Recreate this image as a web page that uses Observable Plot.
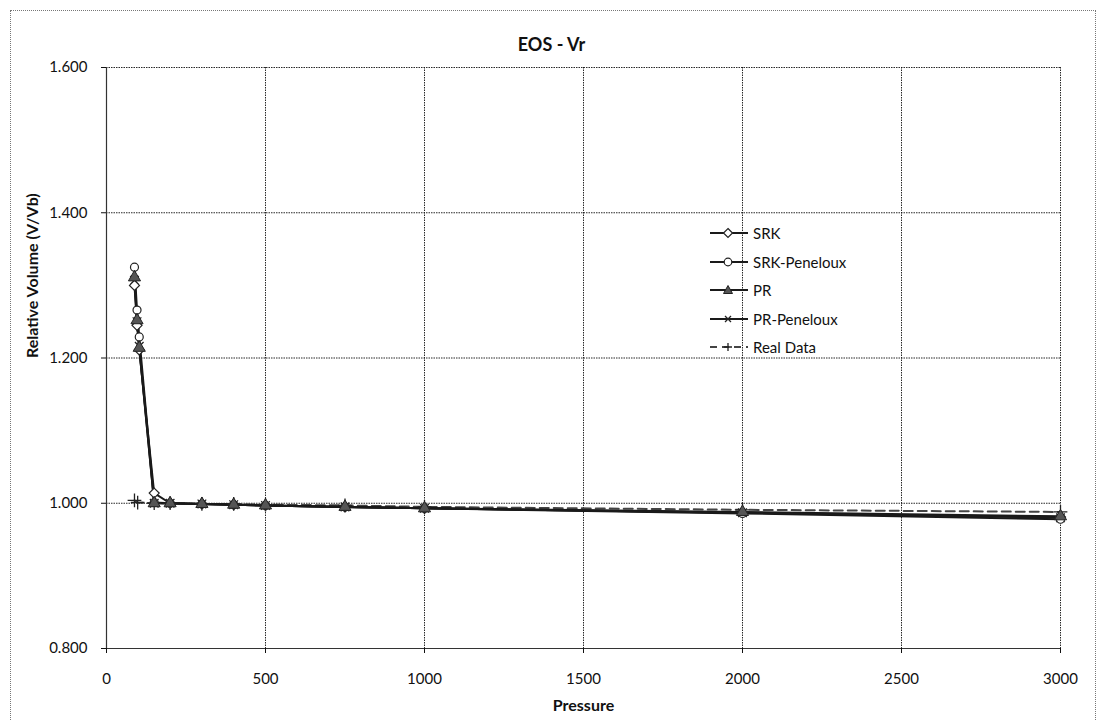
<!DOCTYPE html>
<html>
<head>
<meta charset="utf-8">
<script src="https://cdn.jsdelivr.net/npm/d3@7"></script>
<script src="https://cdn.jsdelivr.net/npm/@observablehq/plot@0.6"></script>
<style>
  html, body { margin: 0; padding: 0; background: #fff; }
  #wrap { position: relative; width: 1103px; height: 720px; overflow: hidden; font-family: Lato, "Open Sans", sans-serif; }
  #border { position: absolute; left: 10px; top: 10px; width: 1086px; height: 730px; border: 1px dotted #777; box-sizing: border-box; pointer-events: none; }
  #legend { position: absolute; left: 708px; top: 219px; font-size: 15px; color: #111; }
  .row { height: 28.5px; display: flex; align-items: center; }
  .row svg { margin-right: 3px; }
</style>
</head>
<body>
<div id="wrap"><div id="border"></div><div id="legend"></div></div>
<script>
// ---- data ----
const xTicks = [0, 500, 1000, 1500, 2000, 2500, 3000];
const yTicks = [0.8, 1.0, 1.2, 1.4, 1.6];

const modelPressure = [88, 96, 103, 150, 200, 300, 400, 500, 750, 1000, 2000, 3000];
const srk      = [1.300, 1.245, 1.211, 1.014, 1.000, 0.999, 0.998, 0.997, 0.995, 0.993, 0.987, 0.981];
const srkPen   = [1.325, 1.266, 1.229, 1.001, 1.000, 0.999, 0.998, 0.997, 0.995, 0.993, 0.986, 0.978];
const pr       = [1.311, 1.252, 1.214, 1.000, 1.000, 0.999, 0.998, 0.997, 0.995, 0.993, 0.988, 0.982];
const prPen    = [1.307, 1.250, 1.216, 1.000, 1.000, 0.999, 0.998, 0.997, 0.995, 0.993, 0.987, 0.980];

const realPressure = [88, 98, 150, 200, 300, 400, 500, 750, 1000, 2000, 3000];
const realData     = [1.004, 1.001, 1.000, 1.000, 0.999, 0.999, 0.998, 0.997, 0.995, 0.991, 0.988];

const seriesNames = ["SRK", "SRK-Peneloux", "PR", "PR-Peneloux", "Real Data"];

// ---- build tables ----
const toRows = (ps, vs) => ps.map((p, i) => ({p, v: vs[i]}));
const dSRK = toRows(modelPressure, srk);
const dSRKP = toRows(modelPressure, srkPen);
const dPR = toRows(modelPressure, pr);
const dPRP = toRows(modelPressure, prPen);
const dReal = toRows(realPressure, realData);

const lineStyle = {x: "p", y: "v", stroke: "#1a1a1a", strokeWidth: 2};
const chart = Plot.plot({
  width: 1103, height: 720,
  marginLeft: 106, marginRight: 43, marginTop: 67, marginBottom: 72,
  style: {fontFamily: "Lato, 'Open Sans', sans-serif", fontSize: "15px", color: "#111", background: "transparent", overflow: "visible"},
  x: {domain: [0, 3000]},
  y: {domain: [0.8, 1.6]},
  marks: [
    Plot.gridX(xTicks, {stroke: "#111", strokeOpacity: 0.9, strokeDasharray: "1.5,1"}),
    Plot.gridY(yTicks, {stroke: "#111", strokeOpacity: 0.9, strokeDasharray: "1.5,1"}),
    Plot.ruleY([0.8], {stroke: "#333", strokeWidth: 1.2}),
    Plot.ruleX([0], {stroke: "#333", strokeWidth: 1.2}),
    Plot.axisX(xTicks, {tickFormat: d3.format("d"), tickSize: 5, tickPadding: 20, label: null, fontSize: 15}),
    Plot.axisY(yTicks, {tickFormat: d3.format(".3f"), tickSize: 5, tickPadding: 14, label: null, fontSize: 15}),
    Plot.line(dReal, {...lineStyle, stroke: "#444", strokeDasharray: "9,5"}),
    Plot.line(dSRK, lineStyle),
    Plot.line(dSRKP, lineStyle),
    Plot.line(dPR, lineStyle),
    Plot.line(dPRP, lineStyle),
    Plot.dot(dReal, {x: "p", y: "v", symbol: "plus", r: 4.5, stroke: "#222", strokeWidth: 1.3}),
    Plot.dot(dPRP, {x: "p", y: "v", symbol: "times", r: 4, stroke: "#222", strokeWidth: 1.3}),
    Plot.dot(dSRK, {x: "p", y: "v", symbol: "diamond2", r: 4.5, stroke: "#222", fill: "white", strokeWidth: 1.2}),
    Plot.dot(dSRKP, {x: "p", y: "v", symbol: "circle", r: 4, stroke: "#222", fill: "white", strokeWidth: 1.2}),
    Plot.dot(dPR, {x: "p", y: "v", symbol: "triangle", r: 4.5, fill: "#555", stroke: "#222", strokeWidth: 1}),
    Plot.text(["EOS - Vr"], {frameAnchor: "top", dx: -32, dy: -29, fontSize: 18, fontWeight: "bold"}),
    Plot.text(["Pressure"], {frameAnchor: "bottom", dy: 62, fontSize: 16, fontWeight: "bold"}),
    Plot.text(["Relative Volume (V/Vb)"], {frameAnchor: "left", dx: -74, rotate: -90, fontSize: 16, fontWeight: "bold"})
  ]
});
const wrap = document.getElementById("wrap");
chart.style.position = "absolute";
chart.style.left = "0";
chart.style.top = "0";
wrap.insertBefore(chart, wrap.firstChild);

// ---- legend ----
const markerSvg = {
  "SRK": '<path d="M20,3.5L24.5,8L20,12.5L15.5,8Z" fill="white" stroke="#222" stroke-width="1.2"/>',
  "SRK-Peneloux": '<circle cx="20" cy="8" r="3.8" fill="white" stroke="#222" stroke-width="1.2"/>',
  "PR": '<path d="M20,3.5L24.5,11.5L15.5,11.5Z" fill="#555" stroke="#222" stroke-width="1"/>',
  "PR-Peneloux": '<path d="M17,5L23,11M23,5L17,11" stroke="#222" stroke-width="1.3"/>',
  "Real Data": '<path d="M20,4V12M16,8H24" stroke="#222" stroke-width="1.3"/>'
};
const legend = document.getElementById("legend");
seriesNames.forEach(name => {
  const dash = name === "Real Data" ? ' stroke-dasharray="7,5"' : '';
  const col = name === "Real Data" ? "#444" : "#1a1a1a";
  const row = document.createElement("div");
  row.className = "row";
  row.innerHTML = `<svg width="42" height="16"><line x1="2" y1="8" x2="40" y2="8" stroke="${col}" stroke-width="2"${dash}/>${markerSvg[name]}</svg><span>${name}</span>`;
  legend.appendChild(row);
});
</script>
</body>
</html>
